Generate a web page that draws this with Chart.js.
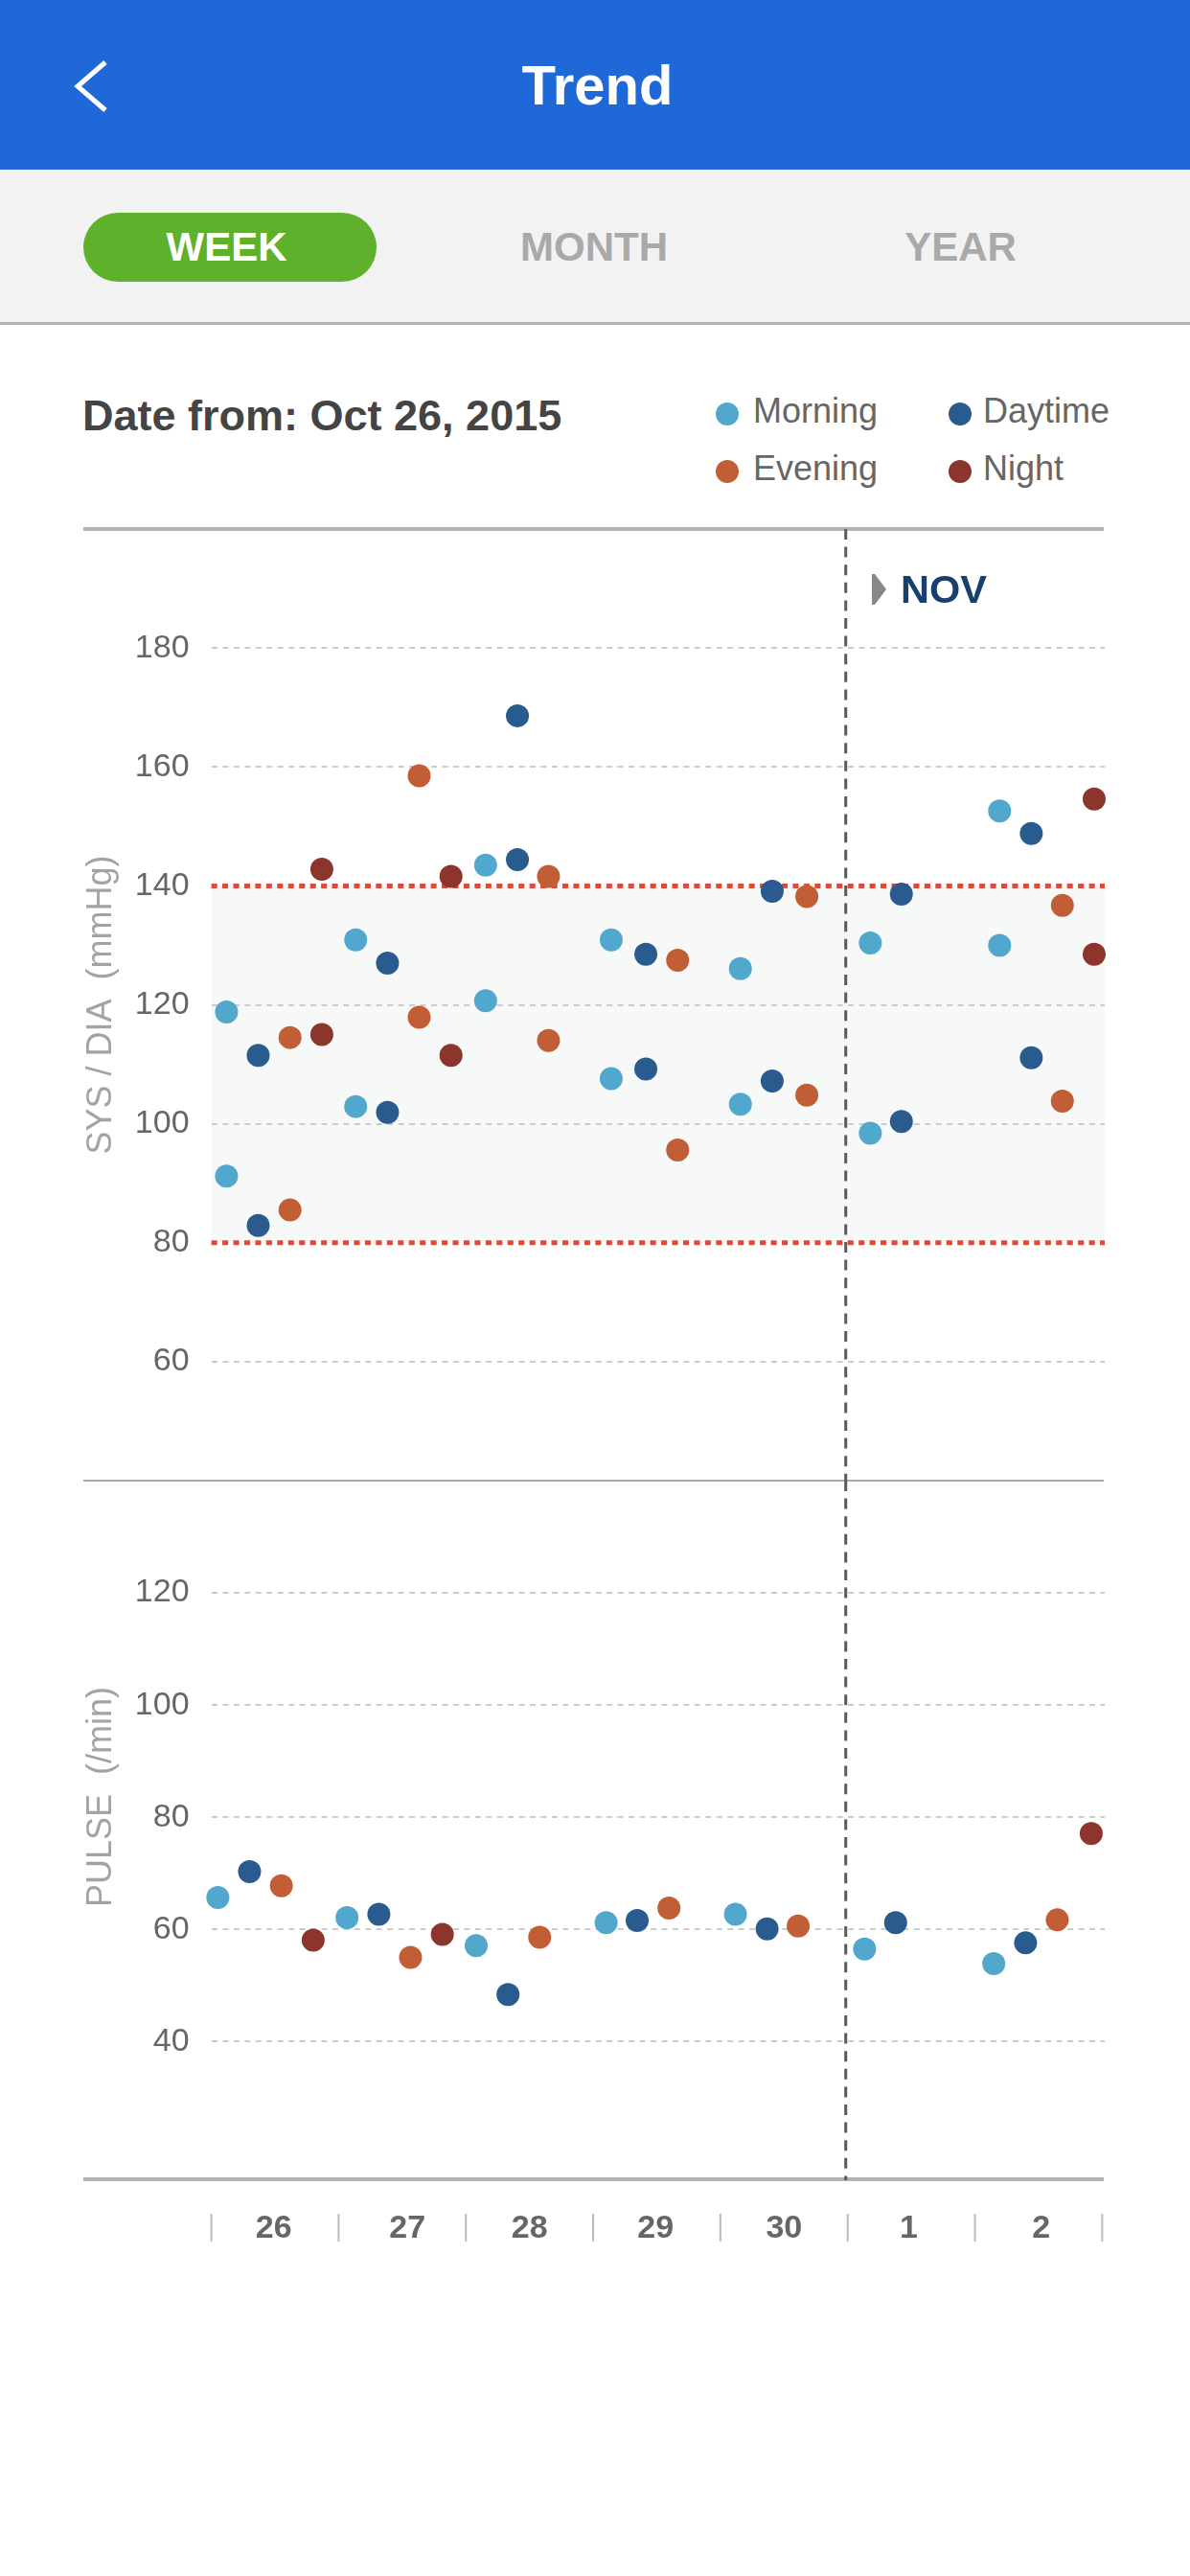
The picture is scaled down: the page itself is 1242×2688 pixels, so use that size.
<!DOCTYPE html>
<html>
<head>
<meta charset="utf-8">
<title>Trend</title>
<script src="https://cdn.jsdelivr.net/npm/chart.js@4/dist/chart.umd.min.js"></script>
<style>
  html, body { margin: 0; padding: 0; background: #fff; }
  body { position: relative; width: 1242px; height: 2688px; overflow: hidden; font-family: "Liberation Sans", Arial, sans-serif; }
  .box { position: absolute; }
  .txt { position: absolute; line-height: 1; white-space: nowrap; }
  .center { transform: translateX(-50%); }
  .dot { position: absolute; width: 24px; height: 24px; border-radius: 50%; }
  canvas { position: absolute; left: 0; }
</style>
</head>
<body>
  <div class="box" style="left:0;top:0;width:1242px;height:177px;background:#1f68d8"></div>
  <svg class="box" style="left:0;top:0" width="140" height="177">
    <polyline points="110,65 81,90 110,115" fill="none" stroke="#fff" stroke-width="5"/>
  </svg>
  <div class="txt center" style="left:623.5px;top:59.9px;font-size:58px;font-weight:bold;color:#fff">Trend</div>

  <div class="box" style="left:0;top:177px;width:1242px;height:159px;background:#f2f2f2"></div>
  <div class="box" style="left:0;top:336px;width:1242px;height:3px;background:#b3b3b3"></div>
  <div class="box" style="left:87px;top:222px;width:306px;height:72px;border-radius:36px;background:#5fb02a"></div>
  <div class="txt center" style="left:236.5px;top:236.7px;font-size:42px;font-weight:bold;color:#fff">WEEK</div>
  <div class="txt center" style="left:620px;top:236.7px;font-size:42px;font-weight:bold;color:#a9a9a9">MONTH</div>
  <div class="txt center" style="left:1002.5px;top:236.7px;font-size:42px;font-weight:bold;color:#a9a9a9">YEAR</div>

  <div class="txt" style="left:86px;top:410.6px;font-size:45px;font-weight:bold;color:#444">Date from: Oct 26, 2015</div>

  <div class="dot" style="left:747px;top:420px;background:#52a7cd"></div>
  <div class="txt" style="left:786px;top:411px;font-size:36px;color:#666">Morning</div>
  <div class="dot" style="left:990px;top:420px;background:#2a5b8f"></div>
  <div class="txt" style="left:1026px;top:411px;font-size:36px;color:#666">Daytime</div>
  <div class="dot" style="left:747px;top:480px;background:#c25e35"></div>
  <div class="txt" style="left:786px;top:471px;font-size:36px;color:#666">Evening</div>
  <div class="dot" style="left:990px;top:480px;background:#8b352c"></div>
  <div class="txt" style="left:1026px;top:471px;font-size:36px;color:#666">Night</div>

  <div class="box" style="left:87px;top:550px;width:1065px;height:4px;background:#b3b3b3"></div>
  <div class="box" style="left:87px;top:1544px;width:1065px;height:2px;background:#aaa"></div>
  <div class="box" style="left:87px;top:2272px;width:1065px;height:4px;background:#b3b3b3"></div>

  <canvas id="pressureChart" style="top:502px" width="1242" height="1093"></canvas>
  <canvas id="pulseChart" style="top:1495px" width="1242" height="900"></canvas>

  <div class="box" style="left:910px;top:599px;width:15px;height:32px;background:#888;clip-path:polygon(0 0,20% 0,100% 50%,20% 100%,0 100%)"></div>
  <div class="txt" style="left:940px;top:594px;font-size:41.5px;font-weight:bold;color:#17406e">NOV</div>

<script>
// values, x is in days from Oct 26
const dayLabels = ['26', '27', '28', '29', '30', '1', '2'];
const dayLabelPlaces = [0.49, 1.54, 2.5, 3.49, 4.5, 5.48, 6.52];
const pressureTicks = [60, 80, 100, 120, 140, 160, 180];
const pulseTicks = [40, 60, 80, 100, 120];
const pressureLimits = [80, 140];
const novStart = 4.985;

const morningDays = [0.119, 1.134, 2.155, 3.142, 4.157, 5.178, 6.194];
const morningSys = [118.8, 130.9, 143.5, 130.9, 126.1, 130.4, 152.6];
const morningDia = [91.2, 102.9, 120.7, 107.6, 103.3, 98.4, 130];
const morningPulseDays = [0.051, 1.066, 2.081, 3.102, 4.118, 5.133, 6.148];
const morningPulse = [65.7, 62.1, 57.1, 61.2, 62.7, 56.5, 53.9];

const daytimeDays = [0.368, 1.384, 2.405, 3.414, 4.407, 5.422, 6.443];
const daytimeSys = [111.5, 127, 168.6, 128.5, 139.1, 138.6, 148.8];
const daytimeDia = [82.9, 101.9, 144.4, 109.2, 107.2, 100.4, 111.1];
const daytimePulseDays = [0.3, 1.316, 2.331, 3.346, 4.367, 5.377, 6.398];
const daytimePulse = [70.3, 62.7, 48.4, 61.6, 60.1, 61.2, 57.6];

const eveningDays = [0.618, 1.633, 2.649, 3.664, 4.679, 6.687];
const eveningSys = [114.5, 158.5, 141.6, 127.5, 138.2, 136.7];
const eveningDia = [85.5, 117.9, 114, 95.6, 104.8, 103.8];
const eveningPulseDays = [0.55, 1.565, 2.58, 3.596, 4.611, 6.647];
const eveningPulse = [67.8, 55, 58.6, 63.8, 60.6, 61.7];

const nightDays = [0.868, 1.883, 6.937];
const nightSys = [142.8, 141.6, 154.6];
const nightDia = [115, 111.5, 128.5];
const nightPulseDays = [0.8, 1.815, 6.914];
const nightPulse = [58.1, 59.1, 77.1];

const MORNING = '#52a7cd';
const DAYTIME = '#2a5b8f';
const EVENING = '#c25e35';
const NIGHT = '#8b352c';

function toPoints(days, values) {
  return days.map((d, i) => ({ x: d, y: values[i] }));
}

function dots(label, color, points) {
  return {
    label: label,
    data: points,
    backgroundColor: color,
    borderWidth: 0,
    pointRadius: 12,
    pointHoverRadius: 12,
    clip: false
  };
}

function drawDashedLine(ctx, x1, y1, x2, y2, color, width, dash) {
  ctx.save();
  ctx.strokeStyle = color;
  ctx.lineWidth = width;
  ctx.setLineDash(dash);
  ctx.beginPath();
  ctx.moveTo(x1, y1);
  ctx.lineTo(x2, y2);
  ctx.stroke();
  ctx.restore();
}

// month change marker, shared by both charts
const novLine = {
  id: 'novLine',
  beforeDatasetsDraw(chart) {
    const x = chart.scales.x.getPixelForValue(novStart);
    const area = chart.chartArea;
    drawDashedLine(chart.ctx, x, area.top, x, area.bottom, '#5a5a5a', 3, [11, 7.6]);
  }
};

// normal range: tinted band and red limits on the pressure chart
const limitBand = {
  id: 'limitBand',
  beforeDraw(chart) {
    const area = chart.chartArea;
    const yLow = chart.scales.y.getPixelForValue(pressureLimits[0]);
    const yHigh = chart.scales.y.getPixelForValue(pressureLimits[1]);
    chart.ctx.fillStyle = '#f7f9f9';
    chart.ctx.fillRect(area.left, yHigh, area.right - area.left, yLow - yHigh);
  },
  beforeDatasetsDraw(chart) {
    const area = chart.chartArea;
    pressureLimits.forEach(v => {
      const y = chart.scales.y.getPixelForValue(v);
      drawDashedLine(chart.ctx, area.left, y, area.right, y, '#dc4a3c', 5, [6, 5.45]);
    });
  }
};

// little separators between the day labels
const daySeparators = {
  id: 'daySeparators',
  afterDraw(chart) {
    const ctx = chart.ctx;
    const bottom = chart.chartArea.bottom;
    ctx.save();
    ctx.strokeStyle = '#bbb';
    ctx.lineWidth = 2;
    for (let i = 0; i <= dayLabels.length; i++) {
      const x = chart.scales.x.getPixelForValue(i);
      ctx.beginPath();
      ctx.moveTo(x, bottom + 35);
      ctx.lineTo(x, bottom + 64);
      ctx.stroke();
    }
    ctx.restore();
  }
};

function yAxis(min, max, tickValues, title) {
  return {
    type: 'linear',
    min: min,
    max: max,
    afterBuildTicks(scale) {
      scale.ticks = tickValues.map(v => ({ value: v }));
    },
    afterFit(scale) {
      scale.width = 220.6;
    },
    border: { display: false, dash: [6, 5.45] },
    grid: { color: '#ccc', lineWidth: 2, drawTicks: false },
    ticks: {
      color: '#666',
      padding: 23,
      font: { family: 'Liberation Sans', size: 34 }
    },
    title: {
      display: true,
      text: title,
      color: '#a3a3a3',
      padding: { top: 84, bottom: 0 },
      font: { family: 'Liberation Sans', size: 36 }
    }
  };
}

// top/bottom padding has to beat half a tick label plus ticks.padding, else the plot area shrinks
new Chart(document.getElementById('pressureChart'), {
  type: 'scatter',
  data: {
    datasets: [
      dots('Morning', MORNING, toPoints(morningDays, morningSys).concat(toPoints(morningDays, morningDia))),
      dots('Daytime', DAYTIME, toPoints(daytimeDays, daytimeSys).concat(toPoints(daytimeDays, daytimeDia))),
      dots('Evening', EVENING, toPoints(eveningDays, eveningSys).concat(toPoints(eveningDays, eveningDia))),
      dots('Night', NIGHT, toPoints(nightDays, nightSys).concat(toPoints(nightDays, nightDia)))
    ]
  },
  options: {
    responsive: false,
    animation: false,
    layout: { padding: { top: 50, bottom: 50, left: 0, right: 89 } },
    plugins: { legend: { display: false } },
    scales: {
      x: { type: 'linear', min: 0, max: 7.02, display: false },
      y: yAxis(40, 200, pressureTicks, 'SYS / DIA  (mmHg)')
    }
  },
  plugins: [limitBand, novLine]
});

new Chart(document.getElementById('pulseChart'), {
  type: 'scatter',
  data: {
    datasets: [
      dots('Morning', MORNING, toPoints(morningPulseDays, morningPulse)),
      dots('Daytime', DAYTIME, toPoints(daytimePulseDays, daytimePulse)),
      dots('Evening', EVENING, toPoints(eveningPulseDays, eveningPulse)),
      dots('Night', NIGHT, toPoints(nightPulseDays, nightPulse))
    ]
  },
  options: {
    responsive: false,
    animation: false,
    layout: { padding: { top: 50, bottom: 0, left: 0, right: 89 } },
    plugins: { legend: { display: false } },
    scales: {
      x: {
        type: 'linear',
        min: 0,
        max: 7.02,
        afterBuildTicks(scale) {
          scale.ticks = dayLabelPlaces.map(v => ({ value: v }));
        },
        afterFit(scale) {
          scale.height = 120;
        },
        border: { display: false },
        grid: { display: false, drawTicks: false },
        ticks: {
          color: '#666',
          padding: 30,
          maxRotation: 0,
          autoSkip: false,
          font: { family: 'Liberation Sans', size: 34, weight: 'bold' },
          callback: (value, i) => dayLabels[i]
        }
      },
      // leading spaces push the title up, the axis centre is lower than in the picture
      y: yAxis(15.3, 140, pulseTicks, '       PULSE  (/min)')
    }
  },
  plugins: [novLine, daySeparators]
});
</script>
</body>
</html>
